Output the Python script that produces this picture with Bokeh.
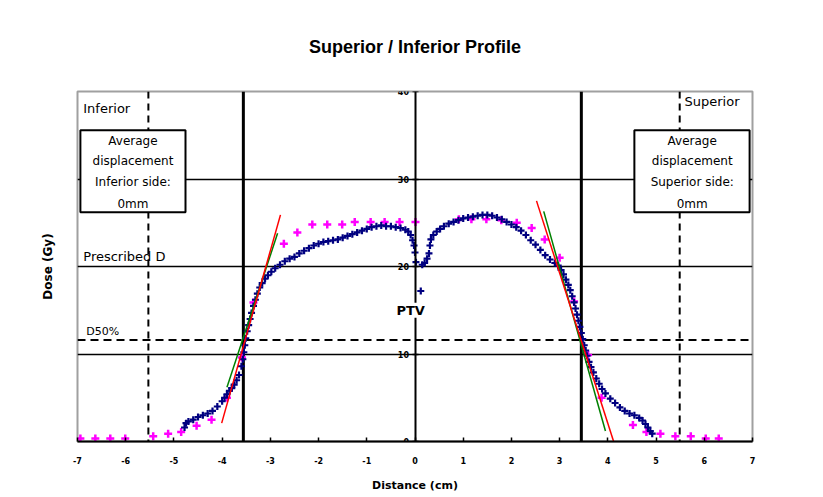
from bokeh.plotting import figure
from bokeh.models import (LinearAxis, FixedTicker, Span, Label, BoxAnnotation,
                          Range1d)
from bokeh.embed import file_html
from bokeh.resources import INLINE

# ---------------- data ----------------
x_ticks = [-7, -6, -5, -4, -3, -2, -1, 0, 1, 2, 3, 4, 5, 6, 7]
x_tick_labels = ["-7", "-6", "-5", "-4", "-3", "-2", "-1", "0", "1", "2", "3", "4", "5", "6", "7"]
y_ticks = [0, 10, 20, 30, 40]
y_tick_labels = ["0", "10", "20", "30", "40"]
grid_levels = [10, 20, 30]

# measured profile (navy crosses)
meas_x = [-4.78, -4.75, -4.70, -4.60, -4.50, -4.40, -4.30, -4.20, -4.10, -4.00,
          -3.95, -3.90, -3.85, -3.80, -3.75, -3.70, -3.65, -3.60, -3.57, -3.55,
          -3.53, -3.51, -3.48, -3.45, -3.42, -3.39, -3.35, -3.31, -3.27, -3.22,
          -3.17, -3.11, -3.05, -2.98, -2.90, -2.80, -2.70, -2.60, -2.50, -2.40,
          -2.30, -2.20, -2.10, -2.00, -1.90, -1.80, -1.70, -1.60, -1.50, -1.40,
          -1.30, -1.20, -1.10, -1.00, -0.90, -0.80, -0.70, -0.60, -0.50, -0.40,
          -0.30, -0.20, -0.14, -0.09, -0.05, -0.02, 0.00, 0.02,
          0.12, 0.15, 0.20, 0.25, 0.29, 0.31, 0.33, 0.38, 0.45, 0.52,
          0.60, 0.70, 0.80, 0.90, 1.00, 1.10, 1.20, 1.30, 1.40, 1.50,
          1.60, 1.70, 1.80, 1.90, 2.00, 2.10, 2.20, 2.30, 2.40, 2.50,
          2.60, 2.70, 2.80, 2.90, 2.97, 3.03, 3.08, 3.13, 3.18, 3.22,
          3.26, 3.30, 3.33, 3.36, 3.39, 3.42, 3.45, 3.48, 3.51, 3.54,
          3.57, 3.61, 3.65, 3.70, 3.76, 3.82, 3.88, 3.95, 4.05, 4.15,
          4.25, 4.35, 4.45, 4.55, 4.65, 4.72, 4.78, 4.83, 4.88, 4.92]
meas_y = [1.6, 2.1, 2.3, 2.5, 2.8, 3.0, 3.2, 3.5, 4.0, 4.6,
          5.0, 5.4, 5.8, 6.1, 6.5, 7.0, 7.6, 8.6, 9.4, 10.2,
          11.0, 11.8, 12.6, 13.3, 14.0, 14.7, 15.5, 16.2, 16.9, 17.6,
          18.1, 18.6, 19.0, 19.4, 19.8, 20.2, 20.6, 20.9, 21.1, 21.5,
          21.8, 22.1, 22.4, 22.6, 22.8, 22.9, 23.0, 23.1, 23.3, 23.5,
          23.7, 23.9, 24.1, 24.3, 24.5, 24.6, 24.7, 24.6, 24.6, 24.5,
          24.4, 24.2, 24.0, 23.6, 23.0, 22.4, 21.6, 20.5,
          17.2, 20.2, 20.4, 20.9, 21.5, 22.4, 23.1, 23.6, 24.0, 24.3,
          24.6, 24.9, 25.1, 25.3, 25.5, 25.6, 25.7, 25.8, 25.9, 25.9,
          25.8, 25.6, 25.4, 25.1, 24.8, 24.5, 24.1, 23.6, 23.0, 22.5,
          21.9, 21.3, 20.8, 20.4, 20.1, 19.6, 19.1, 18.5, 17.9, 17.3,
          16.6, 15.9, 15.2, 14.5, 13.8, 13.1, 12.4, 11.7, 11.0, 10.4,
          9.8, 9.1, 8.5, 7.9, 7.2, 6.6, 6.0, 5.5, 4.9, 4.4,
          3.9, 3.5, 3.2, 3.0, 2.7, 2.4, 2.0, 1.6, 1.2, 0.9]

# reference profile (magenta crosses)
ref_x = [-6.94, -6.63, -6.32, -6.01, -5.43, -5.12, -4.85, -4.53, -4.22, -3.90,
         -3.59, -3.35, -2.72, -2.44, -2.13, -1.82, -1.51, -1.25, -0.92, -0.63,
         -0.32, 0.01, 0.91, 1.17, 1.48, 1.79, 2.11, 2.42, 2.69, 3.00,
         3.30, 3.59, 3.87, 4.52, 4.80, 5.09, 5.40, 5.72, 6.03, 6.30]
ref_y = [0.34, 0.34, 0.34, 0.34, 0.6, 0.88, 1.1, 1.8, 2.5, 5.0,
         9.6, 15.9, 22.6, 23.9, 24.8, 24.8, 24.8, 25.1, 25.1, 25.1,
         25.1, 25.1, 25.4, 25.4, 25.4, 25.3, 25.0, 24.4, 23.1, 21.0,
         16.0, 9.9, 5.0, 1.9, 1.1, 0.9, 0.6, 0.6, 0.34, 0.34]

# penumbra fit lines
left_red_x = [-4.01, -2.79]
left_red_y = [2.1, 25.9]
left_green_x = [-3.90, -2.85]
left_green_y = [6.2, 23.8]
right_red_x = [2.52, 4.12]
right_red_y = [27.5, 0.0]
right_green_x = [2.67, 3.95]
right_green_y = [26.3, 1.2]

field_edges = [-3.56, 3.45]
margin_edges = [-5.53, 5.49]
d50_level = 11.6

# ---------------- figure ----------------
p = figure(width=820, height=494, x_range=Range1d(-7, 7), y_range=Range1d(0, 40),
           output_backend="svg", toolbar_location=None,
           min_border_left=77, min_border_right=68, min_border_top=91, min_border_bottom=52)
p.background_fill_color = "white"
p.border_fill_color = "white"
p.outline_line_color = "#a0a0a0"
p.outline_line_width = 2

p.title.text = "Superior / Inferior Profile"
p.title.align = "center"
p.title.text_font = "Liberation Sans"
p.title.text_font_size = "18px"
p.title.text_font_style = "bold"
p.title.text_color = "black"
p.title.standoff = 69

# x axis
xa = p.xaxis[0]
xa.ticker = FixedTicker(ticks=x_ticks)
xa.major_label_overrides = {t: l for t, l in zip(x_ticks, x_tick_labels)}
xa.major_tick_in = 4
xa.major_tick_out = 0
xa.minor_tick_line_color = None
xa.axis_line_width = 2
xa.major_tick_line_width = 1.5
xa.major_label_standoff = 15
xa.major_label_text_font = "DejaVu Sans"
xa.major_label_text_font_style = "bold"
xa.major_label_text_font_size = "8px"
xa.major_label_text_color = "black"
xa.axis_label = "Distance (cm)"
xa.axis_label_text_font = "DejaVu Sans"
xa.axis_label_text_font_style = "bold"
xa.axis_label_text_font_size = "11px"
xa.axis_label_text_color = "black"
xa.axis_label_standoff = 12

# left axis only for the title
ya = p.yaxis[0]
ya.ticker = FixedTicker(ticks=[])
ya.axis_line_color = None
ya.major_tick_line_color = None
ya.minor_tick_line_color = None
ya.axis_label = "Dose (Gy)"
ya.axis_label_text_font = "DejaVu Sans"
ya.axis_label_text_font_style = "bold"
ya.axis_label_text_font_size = "12px"
ya.axis_label_text_color = "black"
ya.axis_label_standoff = 23

# centre y axis at x = 0
yc = LinearAxis(fixed_location=0, ticker=FixedTicker(ticks=y_ticks),
                major_label_overrides={t: l for t, l in zip(y_ticks, y_tick_labels)})
yc.axis_line_width = 2
yc.major_tick_out = 3
yc.major_tick_in = 3
yc.major_tick_line_width = 1.5
yc.minor_tick_line_color = None
yc.major_label_standoff = 3
yc.major_label_text_font = "DejaVu Sans"
yc.major_label_text_font_style = "bold"
yc.major_label_text_font_size = "8px"
yc.major_label_text_color = "black"
p.add_layout(yc, "left")

p.xgrid.visible = False
p.ygrid[0].ticker = FixedTicker(ticks=grid_levels)
p.ygrid.grid_line_color = "black"
p.ygrid.grid_line_width = 1.5

# reference lines
for xe in field_edges:
    p.add_layout(Span(location=xe, dimension="height", line_color="black",
                      line_width=3, level="underlay"))
for xm in margin_edges:
    p.add_layout(Span(location=xm, dimension="height", line_color="black",
                      line_width=2, line_dash="7 5", level="underlay"))
p.add_layout(Span(location=d50_level, dimension="width", line_color="black",
                  line_width=2, line_dash="8 5", level="underlay"))

# data
p.scatter(ref_x, ref_y, marker="cross", size=8, line_width=2.5, line_color="#FF00FF")
p.scatter(meas_x, meas_y, marker="cross", size=7, line_width=2.2, line_color="#000080")
p.line(left_green_x, left_green_y, line_color="#008000", line_width=1.5)
p.line(right_green_x, right_green_y, line_color="#008000", line_width=1.5)
p.line(left_red_x, left_red_y, line_color="#FF0000", line_width=1.5)
p.line(right_red_x, right_red_y, line_color="#FF0000", line_width=1.5)

# annotations
lab_font = "DejaVu Sans"
p.add_layout(Label(x=-6.88, y=38.1, text="Inferior", text_font=lab_font, text_color="black",
                   text_font_size="13px", text_baseline="middle", text_align="left"))
p.add_layout(Label(x=5.59, y=38.9, text="Superior", text_font=lab_font, text_color="black",
                   text_font_size="13px", text_baseline="middle", text_align="left"))
p.add_layout(Label(x=-6.88, y=20.3, text="Prescribed D", text_font=lab_font, text_color="black",
                   text_font_size="13px", text_baseline="bottom", text_align="left"))
p.add_layout(Label(x=-6.82, y=11.8, text="D50%", text_font=lab_font, text_color="black",
                   text_font_size="11px", text_baseline="bottom", text_align="left"))
p.add_layout(Label(x=-0.09, y=15.0, text="PTV", text_font=lab_font, text_color="black",
                   text_font_size="13px", text_font_style="bold",
                   text_baseline="middle", text_align="center",
                   background_fill_color="white"))

boxes = [(-6.94, -4.76, -5.85, "Inferior side:"), (4.55, 6.94, 5.75, "Superior side:")]
line_ys = [34.3, 32.1, 29.7, 27.2]
for bl, br, bc, side in boxes:
    p.add_layout(BoxAnnotation(left=bl, right=br, bottom=26.2, top=35.56,
                               fill_color="white", fill_alpha=1.0,
                               line_color="black", line_alpha=1.0, line_width=2,
                               level="overlay"))
    for yy, txt in zip(line_ys, ["Average", "displacement", side, "0mm"]):
        p.add_layout(Label(x=bc, y=yy, text=txt, text_font=lab_font, text_color="black",
                           text_font_size="12px", text_baseline="middle",
                           text_align="center", level="overlay"))

open("out.html", "w").write(file_html(p, INLINE))
